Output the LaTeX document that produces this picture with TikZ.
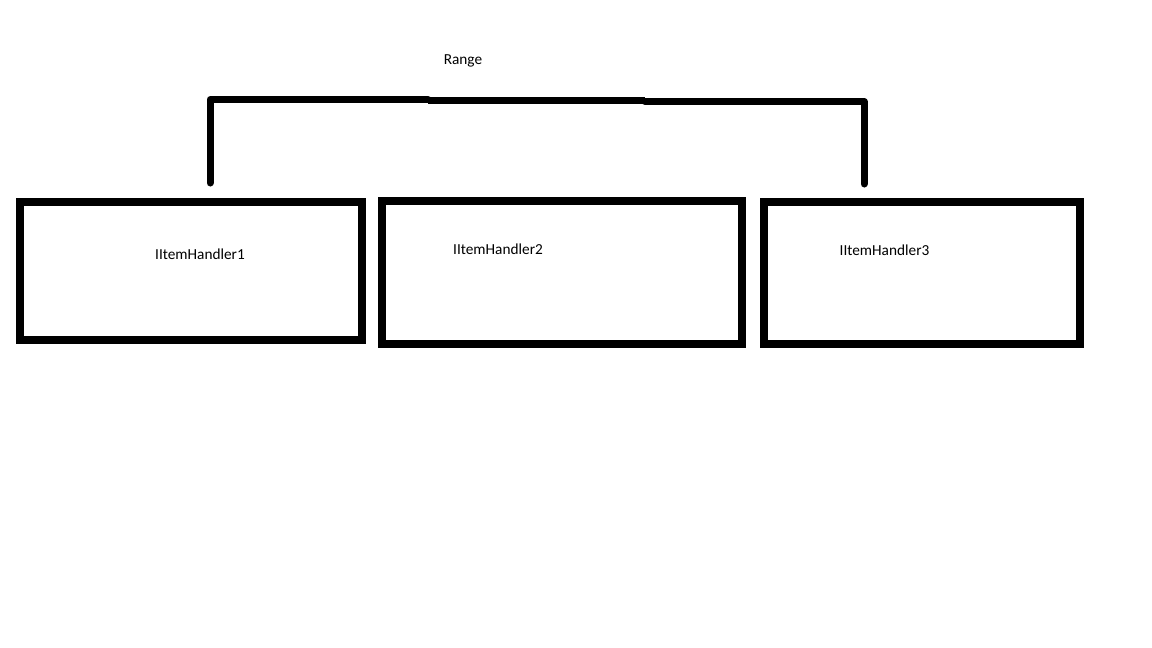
\documentclass[tikz,border=0pt]{standalone}
\usepackage{fontspec}
\setmainfont{Carlito}
\begin{document}
\begin{tikzpicture}[x=1pt,y=-1pt,
  handlerbox/.style={draw=black,line width=8pt,rectangle,inner sep=0pt},
  caption/.style={inner sep=0pt,font=\fontsize{15.3}{18}\selectfont,text=black},
  bracket/.style={line width=7pt,line cap=round,line join=round}]
  \useasboundingbox[fill=white] (0,0) rectangle (1152,648);

  % the three handler boxes
  \node[handlerbox,minimum width=342pt,minimum height=138pt] (h1) at (191,271) {};
  \node[handlerbox,minimum width=360.5pt,minimum height=143pt] (h2) at (561.75,272.5) {};
  \node[handlerbox,minimum width=316pt,minimum height=142pt] (h3) at (922,273) {};

  % their labels
  \node[caption] (l1) at (200,254) {IItemHandler1};
  \node[caption] (l2) at (498,249) {IItemHandler2};
  \node[caption] (l3) at (884.5,250) {IItemHandler3};

  % the range bracket over the boxes
  \node[caption] (range) at (463,60.5) {Range};
  \coordinate (bl) at (210,183);
  \coordinate (tl) at (210,99.5);
  \coordinate (m1) at (428,99.5);
  \coordinate (m2) at (428,100.5);
  \coordinate (m3) at (645,100.5);
  \coordinate (m4) at (645,101.5);
  \coordinate (tr) at (864,101.5);
  \coordinate (br) at (864,184);
  \draw[bracket] (bl) -- (tl) -- (m1);
  \draw[line width=7pt] (m2) -- (m3);
  \draw[bracket] (m4) -- (tr) -- (br);
\end{tikzpicture}
\end{document}
